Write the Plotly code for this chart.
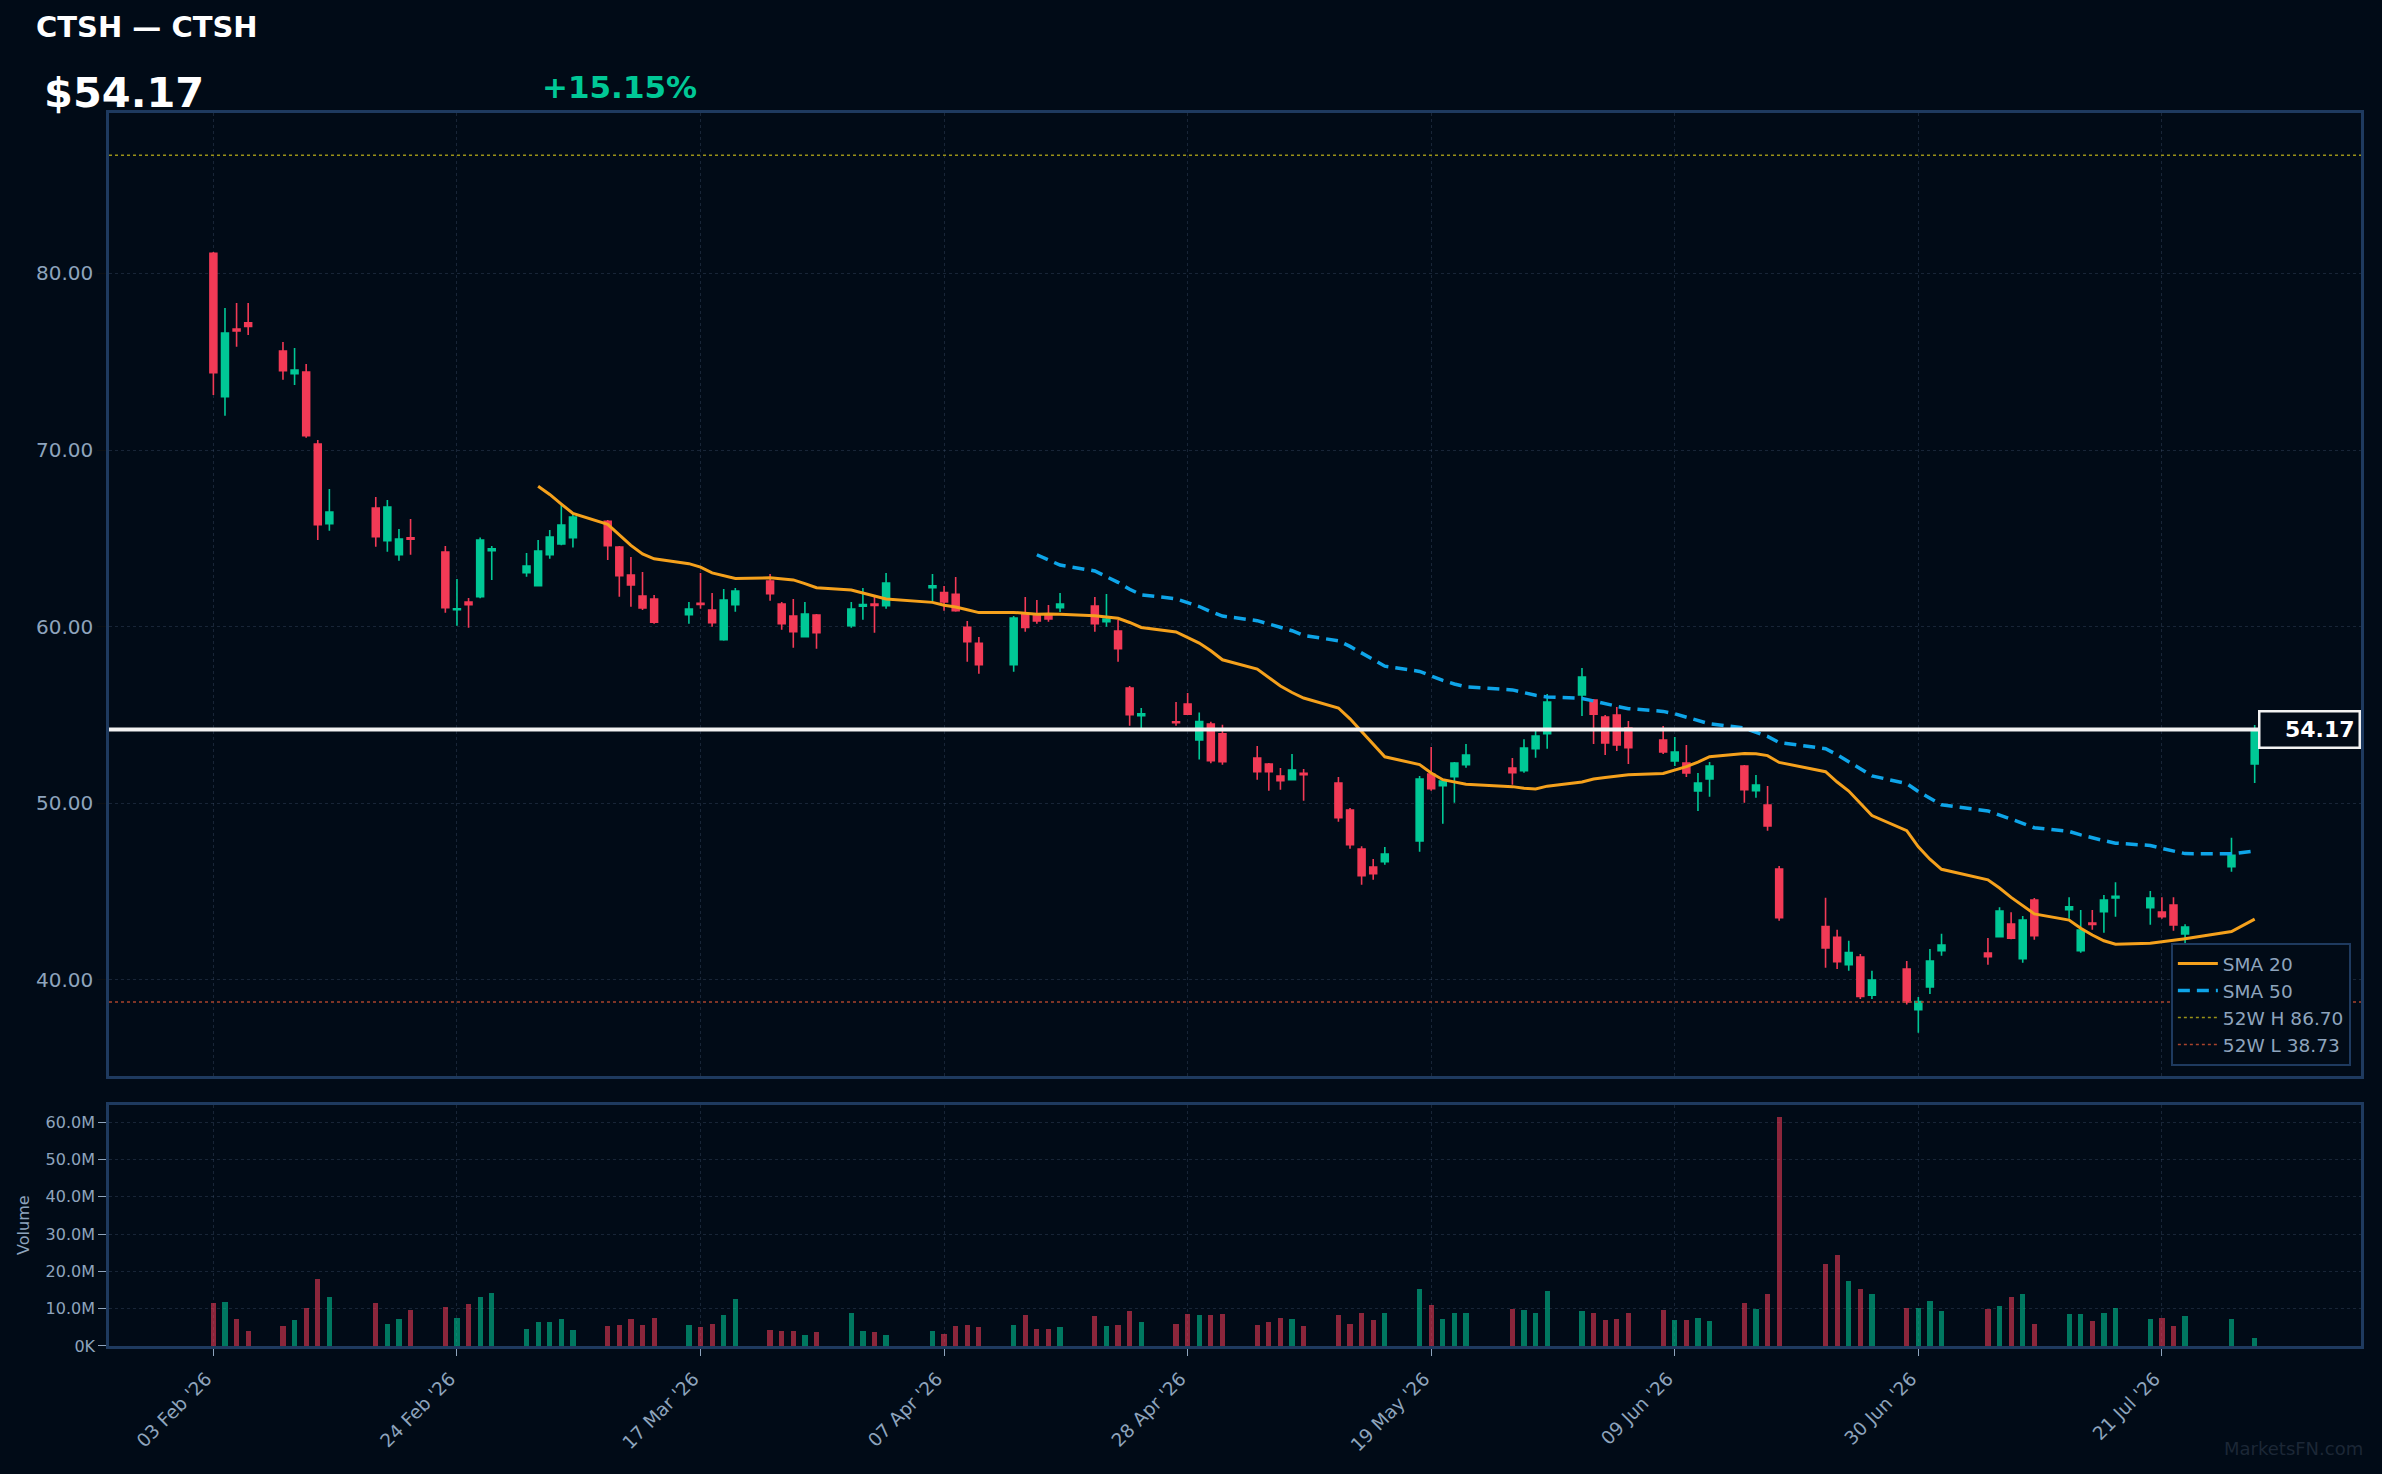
import pandas as pd
import plotly.graph_objects as go

# ---------------- data ----------------
dates = [
    "2026-02-03", "2026-02-04", "2026-02-05", "2026-02-06",
    "2026-02-09", "2026-02-10", "2026-02-11", "2026-02-12", "2026-02-13",
    "2026-02-17", "2026-02-18", "2026-02-19", "2026-02-20",
    "2026-02-23", "2026-02-24", "2026-02-25", "2026-02-26", "2026-02-27",
    "2026-03-02", "2026-03-03", "2026-03-04", "2026-03-05", "2026-03-06",
    "2026-03-09", "2026-03-10", "2026-03-11", "2026-03-12", "2026-03-13",
    "2026-03-16", "2026-03-17", "2026-03-18", "2026-03-19", "2026-03-20",
    "2026-03-23", "2026-03-24", "2026-03-25", "2026-03-26", "2026-03-27",
    "2026-03-30", "2026-03-31", "2026-04-01", "2026-04-02",
    "2026-04-06", "2026-04-07", "2026-04-08", "2026-04-09", "2026-04-10",
    "2026-04-13", "2026-04-14", "2026-04-15", "2026-04-16", "2026-04-17",
    "2026-04-20", "2026-04-21", "2026-04-22", "2026-04-23", "2026-04-24",
    "2026-04-27", "2026-04-28", "2026-04-29", "2026-04-30", "2026-05-01",
    "2026-05-04", "2026-05-05", "2026-05-06", "2026-05-07", "2026-05-08",
    "2026-05-11", "2026-05-12", "2026-05-13", "2026-05-14", "2026-05-15",
    "2026-05-18", "2026-05-19", "2026-05-20", "2026-05-21", "2026-05-22",
    "2026-05-26", "2026-05-27", "2026-05-28", "2026-05-29",
    "2026-06-01", "2026-06-02", "2026-06-03", "2026-06-04", "2026-06-05",
    "2026-06-08", "2026-06-09", "2026-06-10", "2026-06-11", "2026-06-12",
    "2026-06-15", "2026-06-16", "2026-06-17", "2026-06-18",
    "2026-06-22", "2026-06-23", "2026-06-24", "2026-06-25", "2026-06-26",
    "2026-06-29", "2026-06-30", "2026-07-01", "2026-07-02",
    "2026-07-06", "2026-07-07", "2026-07-08", "2026-07-09", "2026-07-10",
    "2026-07-13", "2026-07-14", "2026-07-15", "2026-07-16", "2026-07-17",
    "2026-07-20", "2026-07-21", "2026-07-22", "2026-07-23",
    "2026-07-27", "2026-07-29",
]

opens = [
    81.14, 73.02, 76.85, 77.20,
    75.61, 74.32, 74.42, 70.34, 65.82,
    66.71, 64.86, 64.07, 65.02,
    64.22, 60.95, 61.39, 61.69, 64.30,
    63.05, 62.31, 64.07, 64.68, 65.03,
    65.96, 64.50, 62.92, 61.73, 61.56,
    60.67, 61.32, 60.93, 59.25, 61.24,
    62.58, 61.27, 60.59, 59.42, 60.65,
    60.05, 61.15, 61.28, 61.18,
    62.20, 61.93, 61.82, 59.95, 59.05,
    57.84, 60.71, 60.71, 60.71, 61.07,
    61.16, 60.27, 59.74, 56.52, 54.95,
    54.60, 55.61, 53.58, 54.48, 53.93,
    52.55, 52.21, 51.53, 51.32, 51.68,
    51.13, 49.60, 47.39, 46.38, 46.68,
    47.86, 51.64, 50.98, 51.49, 52.17,
    51.98, 51.83, 53.08, 53.93,
    56.12, 55.84, 54.87, 54.99, 54.25,
    53.57, 52.38, 52.27, 50.68, 51.36,
    52.10, 50.70, 49.89, 46.26,
    43.00, 42.40, 40.84, 41.27, 39.12,
    40.60, 38.29, 39.59, 41.63,
    41.50, 42.43, 43.14, 41.18, 44.50,
    43.96, 41.63, 43.20, 43.84, 44.62,
    44.07, 43.82, 44.22, 42.58,
    46.39, 52.21,
]

highs = [
    81.22, 78.05, 78.33, 78.33,
    76.12, 75.78, 74.87, 70.57, 67.79,
    67.34, 67.17, 65.52, 66.09,
    64.56, 62.69, 61.61, 65.05, 64.56,
    64.16, 64.90, 65.47, 66.88, 66.43,
    66.03, 64.56, 63.94, 63.09, 61.78,
    61.39, 63.03, 61.90, 62.13, 62.18,
    62.97, 61.39, 61.56, 61.39, 60.71,
    61.39, 62.18, 61.69, 63.03,
    62.97, 62.29, 62.80, 60.31, 59.40,
    60.59, 61.67, 61.50, 61.22, 61.90,
    61.67, 61.84, 60.37, 56.63, 55.38,
    55.72, 56.23, 55.13, 54.60, 54.44,
    53.23, 52.27, 51.98, 52.78, 51.93,
    51.47, 49.72, 47.56, 46.83, 47.51,
    51.53, 53.17, 51.30, 52.32, 53.34,
    52.55, 53.62, 54.08, 56.18,
    57.65, 55.89, 54.99, 55.44, 54.65,
    54.36, 53.74, 53.29, 51.70, 52.32,
    52.15, 51.59, 50.96, 46.43,
    44.63, 42.83, 42.20, 41.45, 40.50,
    41.05, 39.01, 41.73, 42.59,
    42.36, 44.10, 43.82, 43.60, 44.62,
    44.67, 43.94, 43.94, 44.79, 45.52,
    45.02, 44.67, 44.67, 43.14,
    48.03, 54.42,
]

lows = [
    73.12, 71.94, 75.85, 76.52,
    73.98, 73.68, 70.70, 64.90, 65.43,
    64.52, 64.24, 63.73, 64.07,
    60.78, 60.05, 59.93, 61.60, 62.63,
    62.82, 62.28, 63.84, 64.60, 64.47,
    63.77, 61.69, 61.12, 60.93, 60.16,
    60.16, 61.00, 59.99, 59.20, 60.84,
    61.46, 59.82, 58.80, 59.40, 58.74,
    59.93, 60.39, 59.65, 61.01,
    61.43, 60.90, 60.84, 58.01, 57.32,
    57.44, 59.71, 60.16, 60.27, 60.82,
    59.71, 59.99, 58.01, 54.38, 54.14,
    54.38, 54.99, 52.47, 52.25, 52.17,
    51.32, 50.70, 50.75, 51.30, 50.13,
    48.94, 47.41, 45.37, 45.66, 46.50,
    47.24, 50.70, 48.83, 50.02, 52.00,
    51.04, 51.72, 52.57, 53.08,
    54.93, 53.34, 52.72, 52.95, 52.21,
    52.78, 52.10, 51.47, 49.55, 50.36,
    50.02, 50.30, 48.43, 43.34,
    40.67, 40.60, 40.50, 38.90, 38.90,
    38.59, 36.99, 39.19, 41.35,
    40.84, 42.40, 42.29, 40.95, 42.25,
    43.44, 41.52, 42.82, 42.65, 43.56,
    43.10, 43.44, 42.76, 42.03,
    46.11, 51.13,
]

closes = [
    74.38, 76.63, 76.75, 77.00,
    74.49, 74.53, 70.81, 65.77, 66.49,
    65.09, 66.77, 64.96, 64.95,
    61.07, 61.00, 61.24, 64.90, 64.40,
    63.43, 64.28, 65.07, 65.75, 66.20,
    64.58, 62.88, 62.35, 61.05, 60.25,
    60.99, 61.25, 60.22, 61.50, 62.01,
    61.86, 60.16, 59.71, 60.71, 59.65,
    60.99, 61.25, 61.20, 62.46,
    62.30, 61.39, 60.90, 59.14, 57.84,
    60.48, 59.95, 60.31, 60.43, 61.27,
    60.16, 60.43, 58.74, 55.00, 55.05,
    54.55, 55.04, 54.62, 52.40, 52.34,
    51.77, 51.77, 51.26, 51.87, 51.60,
    49.17, 47.64, 45.88, 46.00, 47.11,
    51.36, 50.81, 51.25, 52.27, 52.72,
    51.72, 53.11, 53.80, 55.72,
    57.14, 55.04, 53.40, 53.29, 53.13,
    52.89, 52.89, 51.70, 51.13, 52.10,
    50.75, 51.02, 48.71, 43.51,
    41.79, 41.02, 41.53, 39.04, 39.98,
    38.73, 38.75, 41.05, 41.95,
    41.29, 43.88, 42.35, 43.37, 42.48,
    44.12, 42.81, 43.12, 44.50, 44.72,
    44.62, 43.56, 43.10, 42.97,
    47.04, 54.17,
]

volumes_m = [
    11.45, 11.72, 7.42, 4.20,
    5.28, 6.89, 10.11, 17.89, 13.06,
    11.45, 6.08, 7.16, 9.57,
    10.38, 7.69, 11.18, 13.06, 14.13,
    4.74, 6.35, 6.35, 7.16, 4.47,
    5.28, 5.55, 7.16, 5.81, 7.69,
    5.55, 5.01, 6.08, 8.23, 12.52,
    4.47, 3.94, 4.20, 3.13, 3.67,
    8.77, 3.94, 3.67, 3.13,
    3.94, 3.40, 5.28, 5.81, 5.01,
    5.81, 8.23, 4.74, 4.74, 5.01,
    7.96, 5.28, 5.55, 9.30, 6.35,
    6.08, 8.50, 8.23, 8.23, 8.50,
    5.81, 6.35, 7.69, 7.42, 5.28,
    8.23, 6.08, 9.03, 6.89, 8.77,
    15.21, 10.91, 7.42, 9.03, 9.03,
    9.84, 9.57, 9.03, 14.67,
    9.30, 9.03, 6.89, 7.16, 9.03,
    9.57, 6.89, 6.89, 7.69, 6.62,
    11.45, 9.84, 13.86, 61.36,
    21.91, 24.33, 17.35, 15.21, 13.86,
    10.11, 10.11, 11.99, 9.30,
    9.84, 10.64, 13.06, 13.86, 6.08,
    8.50, 8.50, 6.62, 8.77, 10.11,
    7.42, 7.69, 5.28, 7.96,
    7.42, 2.06,
]

tick_dates = ["2026-02-03", "2026-02-24", "2026-03-17", "2026-04-07", "2026-04-28",
              "2026-05-19", "2026-06-09", "2026-06-30", "2026-07-21"]
vol_tickvals_m = [0, 10, 20, 30, 40, 50, 60]
vol_ticktext = ["0K", "10.0M", "20.0M", "30.0M", "40.0M", "50.0M", "60.0M"]
price_tickvals = [40, 50, 60, 70, 80]

symbol = "CTSH"
last_price = 54.17
pct_change = 15.15
high_52w = 86.70
low_52w = 38.73

x_start = "2026-01-25 00:00"
x_end = "2026-08-07 04:00"
price_range = [34.54, 89.09]
vol_range_m = [0, 64.67]

# ---------------- styles ----------------
BG = "#010b17"
FRAME = "#1e3a5f"
GRID = "rgba(80,100,130,0.30)"
TXT = "#8ea4bd"
INC = "#00c896"
DEC = "#f23a56"
INC_V = "rgba(0,200,150,0.58)"
DEC_V = "rgba(242,58,86,0.58)"
SMA20_C = "#f5a11c"
SMA50_C = "#0ea5e9"
FONT = "DejaVu Sans"

sma20 = pd.Series(closes).rolling(20).mean()
sma50 = pd.Series(closes).rolling(50).mean()
vol_colors = [INC_V if c >= o else DEC_V for o, c in zip(opens, closes)]

fig = go.Figure()

fig.add_trace(go.Candlestick(
    x=dates, open=opens, high=highs, low=lows, close=closes,
    increasing=dict(line=dict(color=INC, width=1.6), fillcolor=INC),
    decreasing=dict(line=dict(color=DEC, width=1.6), fillcolor=DEC),
    whiskerwidth=0, showlegend=False, hoverinfo="skip",
    xaxis="x", yaxis="y",
))

fig.add_trace(go.Scatter(x=dates, y=sma20, mode="lines", name="SMA 20",
                         line=dict(color=SMA20_C, width=3), xaxis="x", yaxis="y"))
fig.add_trace(go.Scatter(x=dates, y=sma50, mode="lines", name="SMA 50",
                         line=dict(color=SMA50_C, width=3.5, dash="12px,7px"),
                         xaxis="x", yaxis="y"))
fig.add_trace(go.Scatter(x=[x_start, x_end], y=[high_52w, high_52w], mode="lines",
                         name=f"52W H {high_52w:.2f}",
                         line=dict(color="#9a9218", width=1.5, dash="dot"),
                         xaxis="x", yaxis="y"))
fig.add_trace(go.Scatter(x=[x_start, x_end], y=[low_52w, low_52w], mode="lines",
                         name=f"52W L {low_52w:.2f}",
                         line=dict(color="#a8432c", width=1.5, dash="dot"),
                         xaxis="x", yaxis="y"))
fig.add_trace(go.Scatter(x=[x_start, x_end], y=[last_price, last_price], mode="lines",
                         showlegend=False, line=dict(color="#f2f2f2", width=4),
                         xaxis="x", yaxis="y"))

fig.add_trace(go.Bar(
    x=dates, y=[v * 1e6 for v in volumes_m],
    marker=dict(color=vol_colors, line=dict(width=0)),
    width=0.45 * 86400000, showlegend=False, hoverinfo="skip",
    xaxis="x2", yaxis="y2",
))

axis_common = dict(showline=True, linecolor=FRAME, linewidth=2.5, mirror=True,
                   showgrid=True, gridcolor=GRID, griddash="dot", gridwidth=1,
                   zeroline=False)

fig.update_layout(
    width=2382, height=1474,
    paper_bgcolor=BG, plot_bgcolor=BG,
    margin=dict(l=109, r=21, t=113, b=128),
    font=dict(family=FONT, color=TXT),
    boxgap=0.15, boxgroupgap=0.3,
    bargap=0,
    showlegend=True,
    legend=dict(x=0.9955, y=0.2272, xanchor="right", yanchor="bottom",
                bgcolor=BG, bordercolor=FRAME, borderwidth=2,
                font=dict(size=18.5, color=TXT, family=FONT),
                itemwidth=40, tracegroupgap=0),
    xaxis=dict(axis_common, type="date", range=[x_start, x_end], domain=[0, 1],
               anchor="y", tickvals=tick_dates, showticklabels=False, ticks="",
               rangeslider=dict(visible=False)),
    yaxis=dict(axis_common, domain=[0.2190, 1.0], range=price_range, anchor="x",
               tickvals=price_tickvals, tickformat=".2f", ticks="outside",
               ticklen=9, tickcolor="#0a0f14",
               tickfont=dict(size=20, color=TXT)),
    xaxis2=dict(axis_common, type="date", range=[x_start, x_end], domain=[0, 1],
                anchor="y2", matches="x", tickvals=tick_dates,
                tickformat="%d %b '%y", tickangle=-45, ticks="outside",
                ticklen=7, tickcolor=TXT, ticklabelstandoff=5, ticklabelshift=-7,
                tickfont=dict(size=18.5, color=TXT)),
    yaxis2=dict(axis_common, domain=[0, 0.1956],
                range=[vol_range_m[0] * 1e6, vol_range_m[1] * 1e6], anchor="x2",
                tickvals=[v * 1e6 for v in vol_tickvals_m], ticktext=vol_ticktext,
                ticks="outside", ticklen=8, tickcolor=TXT,
                tickfont=dict(size=16, color=TXT)),
)

fig.add_annotation(text=f"<b>{symbol} — {symbol}</b>", xref="paper", yref="paper",
                   x=-0.0334, y=1.0700, xanchor="left", yanchor="middle",
                   showarrow=False, font=dict(size=29, color="#ffffff", family=FONT))
fig.add_annotation(text=f"<b>${last_price:.2f}</b>", xref="paper", yref="paper",
                   x=-0.0296, y=1.0164, xanchor="left", yanchor="middle",
                   showarrow=False, font=dict(size=41.5, color="#ffffff", family=FONT))
fig.add_annotation(text=f"<b>+{pct_change:.2f}%</b>", xref="paper", yref="paper",
                   x=0.1912, y=1.0207, xanchor="left", yanchor="middle",
                   showarrow=False, font=dict(size=31, color=INC, family=FONT))
fig.add_annotation(text=f"<b>{last_price:.2f}</b>", xref="paper", yref="y",
                   x=1.0, y=last_price, xanchor="right", yanchor="middle",
                   showarrow=False, align="right", width=90, height=26,
                   bgcolor=BG, bordercolor="#f2f2f2", borderwidth=2.5, borderpad=4,
                   font=dict(size=22, color="#ffffff", family=FONT))
fig.add_annotation(text="Volume", xref="paper", yref="paper",
                   x=-0.0383, y=0.098, xanchor="center", yanchor="middle",
                   textangle=-90, showarrow=False,
                   font=dict(size=16, color=TXT, family=FONT))
fig.add_annotation(text="MarketsFN.com", xref="paper", yref="paper",
                   x=1.0018, y=-0.0829, xanchor="right", yanchor="middle",
                   showarrow=False, font=dict(size=18, color="#1c2736", family=FONT))

fig.write_html("out.html")
